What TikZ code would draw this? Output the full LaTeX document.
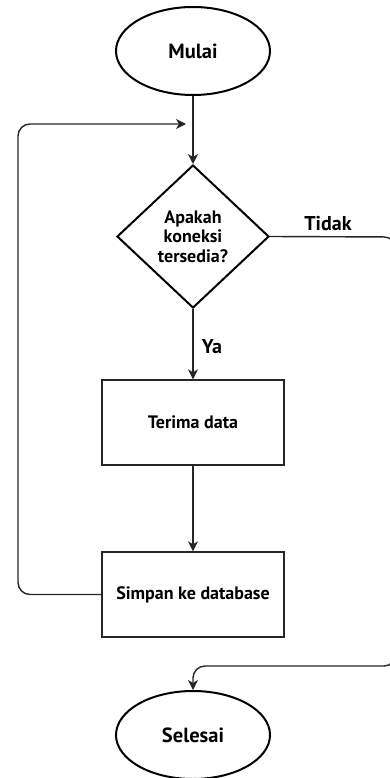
\documentclass[tikz,border=0pt]{standalone}
\usepackage{fontspec}
\setmainfont{PT Sans}
\usetikzlibrary{shapes.geometric,arrows.meta}
\tikzset{
  terminal/.style={ellipse, draw=black, line width=2pt, minimum width=154pt, minimum height=88pt, inner sep=0pt, font=\fontsize{20.5}{22}\selectfont\bfseries},
  decision/.style={diamond, draw=black, line width=2pt, minimum width=152pt, minimum height=143pt, inner sep=0pt, align=center, font=\fontsize{18}{19.5}\selectfont\bfseries},
  process/.style={rectangle, draw=black!85, line width=1.4pt, minimum width=182pt, minimum height=85pt, inner sep=0pt, font=\fontsize{18}{20}\selectfont\bfseries},
  conn/.style={draw=black!85, line width=1.4pt, -{Stealth[length=10pt,width=10pt,inset=3pt]}},
  lbl/.style={font=\fontsize{20}{22}\selectfont\bfseries, inner sep=0pt}
}
\begin{document}
\begin{tikzpicture}[x=1pt,y=-1pt]
\useasboundingbox (0,0) rectangle (389,778);
\node[terminal] (mulai) at (193,51) {Mulai};
\node[decision] (dec) at (193,236.5) {Apakah\\koneksi\\tersedia?};
\node[process] (terima) at (193,422.5) {Terima data};
\node[process] (simpan) at (193,594.5) {Simpan ke database};
\node[terminal] (selesai) at (193,735) {Selesai};
\node[lbl] (tidak) at (328,224) {Tidak};
\node[lbl] (ya) at (212,347) {Ya};
\coordinate (loopend) at (186,124);
\coordinate (rtop) at (396,237);
\coordinate (rbot) at (396,666);
\coordinate (lbot) at (18,594.5);
\coordinate (ltop) at (18,124);
\draw[conn] (mulai.south) -- (dec.north);
\draw[conn] (dec.south) -- (terima.north);
\draw[conn] (terima.south) -- (simpan.north);
\draw[conn, rounded corners=12pt] (simpan.west) -- (lbot) -- (ltop) -- (loopend);
\draw[conn, rounded corners=12pt] (dec.east) -- (rtop) -- (rbot) -- (selesai.north |- rbot) -- (selesai.north);
\end{tikzpicture}
\end{document}
